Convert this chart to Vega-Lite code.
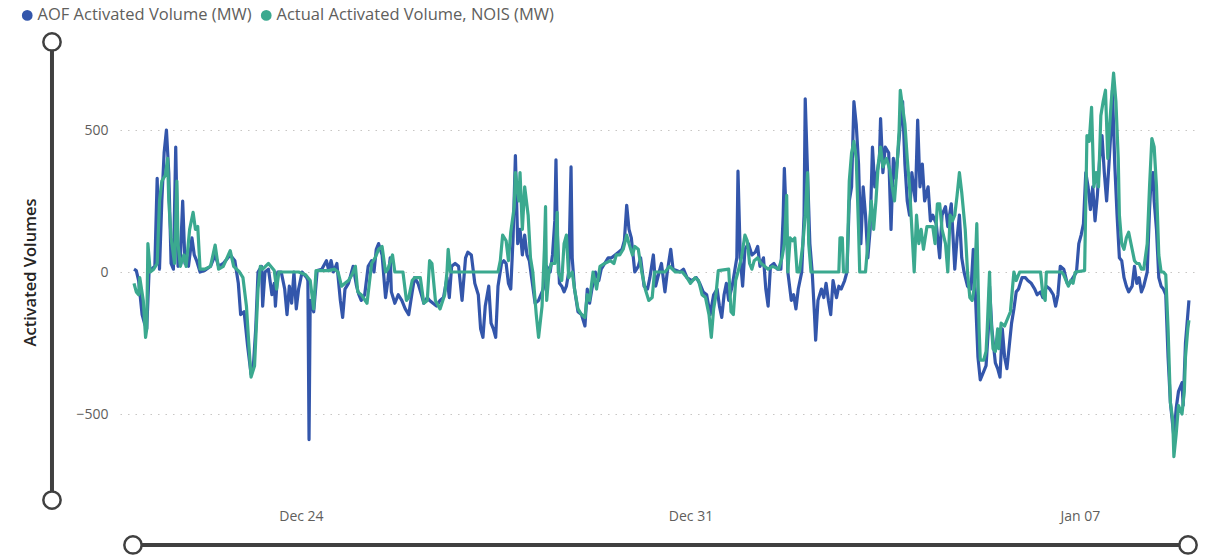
{
  "$schema": "https://vega.github.io/schema/vega-lite/v6.json",
  "width": 1080,
  "height": 450,
  "autosize": {"type": "none"},
  "padding": {"left": 120, "top": 40, "right": 10, "bottom": 66},
  "background": "white",
  "config": {"view": {"stroke": null}, "font": "Open Sans"},
  "datasets": {
    "aof": [
      {"t":"2023-12-21T00:00","v":10},{"t":"2023-12-21T01:00","v":5},{"t":"2023-12-21T02:00","v":-30},{"t":"2023-12-21T03:30","v":-150},{"t":"2023-12-21T04:30","v":-180},{"t":"2023-12-21T05:30","v":-200},{"t":"2023-12-21T06:30","v":0},{"t":"2023-12-21T07:30","v":10},{"t":"2023-12-21T09:00","v":20},{"t":"2023-12-21T10:00","v":330},{"t":"2023-12-21T11:00","v":10},{"t":"2023-12-21T12:00","v":250},{"t":"2023-12-21T13:00","v":420},{"t":"2023-12-21T14:00","v":500},{"t":"2023-12-21T15:00","v":350},{"t":"2023-12-21T16:00","v":30},{"t":"2023-12-21T17:00","v":10},{"t":"2023-12-21T18:00","v":440},{"t":"2023-12-21T19:00","v":20},{"t":"2023-12-21T20:00","v":50},{"t":"2023-12-21T21:00","v":250},{"t":"2023-12-21T22:00","v":30},{"t":"2023-12-21T23:30","v":20},
      {"t":"2023-12-22T01:00","v":120},{"t":"2023-12-22T02:00","v":60},{"t":"2023-12-22T03:00","v":40},{"t":"2023-12-22T04:30","v":0},{"t":"2023-12-22T06:30","v":5},{"t":"2023-12-22T09:00","v":20},{"t":"2023-12-22T11:00","v":60},{"t":"2023-12-22T12:30","v":20},{"t":"2023-12-22T14:30","v":30},{"t":"2023-12-22T17:30","v":60},{"t":"2023-12-22T19:30","v":40},{"t":"2023-12-22T21:00","v":-40},{"t":"2023-12-22T22:00","v":-150},{"t":"2023-12-22T23:30","v":-140},
      {"t":"2023-12-23T01:00","v":-260},{"t":"2023-12-23T02:30","v":-360},{"t":"2023-12-23T03:30","v":-330},{"t":"2023-12-23T04:30","v":-200},{"t":"2023-12-23T05:30","v":0},{"t":"2023-12-23T07:00","v":20},{"t":"2023-12-23T07:30","v":-120},{"t":"2023-12-23T08:30","v":0},{"t":"2023-12-23T10:00","v":10},{"t":"2023-12-23T11:30","v":-80},{"t":"2023-12-23T12:30","v":-40},{"t":"2023-12-23T13:00","v":-120},{"t":"2023-12-23T14:00","v":0},{"t":"2023-12-23T15:30","v":0},{"t":"2023-12-23T17:00","v":-60},{"t":"2023-12-23T18:00","v":-150},{"t":"2023-12-23T19:00","v":-50},{"t":"2023-12-23T20:00","v":-110},{"t":"2023-12-23T21:00","v":0},{"t":"2023-12-23T22:00","v":-130},{"t":"2023-12-23T23:00","v":-60},
      {"t":"2023-12-24T00:30","v":0},{"t":"2023-12-24T02:30","v":-20},{"t":"2023-12-24T03:00","v":-30},{"t":"2023-12-24T03:30","v":-590},{"t":"2023-12-24T04:00","v":-100},{"t":"2023-12-24T05:30","v":-140},{"t":"2023-12-24T07:00","v":5},{"t":"2023-12-24T09:00","v":10},{"t":"2023-12-24T11:00","v":40},{"t":"2023-12-24T12:00","v":5},{"t":"2023-12-24T13:00","v":40},{"t":"2023-12-24T14:00","v":0},{"t":"2023-12-24T15:30","v":30},{"t":"2023-12-24T17:00","v":-100},{"t":"2023-12-24T18:00","v":-160},{"t":"2023-12-24T19:00","v":-60},{"t":"2023-12-24T20:30","v":-40},{"t":"2023-12-24T22:30","v":20},
      {"t":"2023-12-25T00:00","v":-50},{"t":"2023-12-25T01:00","v":-80},{"t":"2023-12-25T02:00","v":-100},{"t":"2023-12-25T03:30","v":-80},{"t":"2023-12-25T05:00","v":20},{"t":"2023-12-25T06:30","v":40},{"t":"2023-12-25T07:30","v":0},{"t":"2023-12-25T08:30","v":80},{"t":"2023-12-25T09:30","v":100},{"t":"2023-12-25T11:00","v":60},{"t":"2023-12-25T12:30","v":-90},{"t":"2023-12-25T13:30","v":-30},{"t":"2023-12-25T14:30","v":50},{"t":"2023-12-25T15:00","v":-70},{"t":"2023-12-25T16:30","v":-110},{"t":"2023-12-25T18:00","v":-80},{"t":"2023-12-25T19:30","v":-100},{"t":"2023-12-25T21:00","v":-130},{"t":"2023-12-25T22:30","v":-150},
      {"t":"2023-12-26T00:00","v":-70},{"t":"2023-12-26T01:00","v":-20},{"t":"2023-12-26T02:30","v":-40},{"t":"2023-12-26T04:00","v":-80},{"t":"2023-12-26T05:00","v":-110},{"t":"2023-12-26T06:30","v":-90},{"t":"2023-12-26T07:30","v":-100},{"t":"2023-12-26T09:00","v":-110},{"t":"2023-12-26T10:30","v":-120},{"t":"2023-12-26T12:00","v":-100},{"t":"2023-12-26T13:30","v":-90},{"t":"2023-12-26T15:00","v":-20},{"t":"2023-12-26T16:00","v":-90},{"t":"2023-12-26T17:00","v":20},{"t":"2023-12-26T18:30","v":30},{"t":"2023-12-26T20:00","v":20},{"t":"2023-12-26T21:30","v":-100},{"t":"2023-12-26T23:00","v":50},
      {"t":"2023-12-27T00:00","v":70},{"t":"2023-12-27T01:30","v":60},{"t":"2023-12-27T03:00","v":-40},{"t":"2023-12-27T04:30","v":-80},{"t":"2023-12-27T05:30","v":-200},{"t":"2023-12-27T06:30","v":-230},{"t":"2023-12-27T07:30","v":-120},{"t":"2023-12-27T09:00","v":-50},{"t":"2023-12-27T10:00","v":-180},{"t":"2023-12-27T11:00","v":-200},{"t":"2023-12-27T12:00","v":-230},{"t":"2023-12-27T13:00","v":-50},{"t":"2023-12-27T14:30","v":30},{"t":"2023-12-27T15:30","v":40},{"t":"2023-12-27T16:30","v":30},{"t":"2023-12-27T17:30","v":-40},{"t":"2023-12-27T18:30","v":-60},{"t":"2023-12-27T19:30","v":120},{"t":"2023-12-27T20:30","v":410},{"t":"2023-12-27T21:30","v":100},{"t":"2023-12-27T22:30","v":150},{"t":"2023-12-27T23:30","v":60},
      {"t":"2023-12-28T00:30","v":130},{"t":"2023-12-28T01:30","v":60},{"t":"2023-12-28T02:30","v":40},{"t":"2023-12-28T03:30","v":-20},{"t":"2023-12-28T05:00","v":-110},{"t":"2023-12-28T06:30","v":-100},{"t":"2023-12-28T08:30","v":-60},{"t":"2023-12-28T10:00","v":20},{"t":"2023-12-28T11:30","v":0},{"t":"2023-12-28T12:30","v":60},{"t":"2023-12-28T13:30","v":180},{"t":"2023-12-28T14:00","v":395},{"t":"2023-12-28T14:30","v":150},{"t":"2023-12-28T15:30","v":-40},{"t":"2023-12-28T16:30","v":-50},{"t":"2023-12-28T17:30","v":-70},{"t":"2023-12-28T18:30","v":-50},{"t":"2023-12-28T19:30","v":0},{"t":"2023-12-28T20:30","v":370},{"t":"2023-12-28T21:00","v":50},{"t":"2023-12-28T22:00","v":-60},{"t":"2023-12-28T23:30","v":-140},
      {"t":"2023-12-29T01:00","v":-150},{"t":"2023-12-29T02:30","v":-190},{"t":"2023-12-29T03:30","v":-60},{"t":"2023-12-29T04:30","v":-110},{"t":"2023-12-29T05:30","v":-60},{"t":"2023-12-29T07:00","v":0},{"t":"2023-12-29T08:30","v":-30},{"t":"2023-12-29T09:30","v":10},{"t":"2023-12-29T11:00","v":30},{"t":"2023-12-29T12:30","v":50},{"t":"2023-12-29T14:00","v":50},{"t":"2023-12-29T15:30","v":60},{"t":"2023-12-29T17:00","v":70},{"t":"2023-12-29T18:30","v":80},{"t":"2023-12-29T19:30","v":110},{"t":"2023-12-29T20:30","v":235},{"t":"2023-12-29T21:30","v":150},{"t":"2023-12-29T22:30","v":120},
      {"t":"2023-12-30T00:00","v":0},{"t":"2023-12-30T01:30","v":20},{"t":"2023-12-30T02:30","v":50},{"t":"2023-12-30T04:00","v":-50},{"t":"2023-12-30T05:30","v":-60},{"t":"2023-12-30T06:30","v":-20},{"t":"2023-12-30T08:00","v":60},{"t":"2023-12-30T09:00","v":-50},{"t":"2023-12-30T10:30","v":0},{"t":"2023-12-30T11:30","v":30},{"t":"2023-12-30T13:00","v":-70},{"t":"2023-12-30T14:00","v":0},{"t":"2023-12-30T15:30","v":80},{"t":"2023-12-30T16:30","v":10},{"t":"2023-12-30T18:00","v":5},{"t":"2023-12-30T19:30","v":0},{"t":"2023-12-30T21:00","v":10},{"t":"2023-12-30T22:30","v":-20},
      {"t":"2023-12-31T00:30","v":-30},{"t":"2023-12-31T02:30","v":-20},{"t":"2023-12-31T04:00","v":-40},{"t":"2023-12-31T05:30","v":-70},{"t":"2023-12-31T07:00","v":-80},{"t":"2023-12-31T08:30","v":-150},{"t":"2023-12-31T10:00","v":-80},{"t":"2023-12-31T11:30","v":-60},{"t":"2023-12-31T12:30","v":-120},{"t":"2023-12-31T13:30","v":-160},{"t":"2023-12-31T14:30","v":-80},{"t":"2023-12-31T15:30","v":-40},{"t":"2023-12-31T16:30","v":-100},{"t":"2023-12-31T18:00","v":-50},{"t":"2023-12-31T19:00","v":0},{"t":"2023-12-31T20:00","v":50},{"t":"2023-12-31T20:30","v":355},{"t":"2023-12-31T21:30","v":50},{"t":"2023-12-31T22:30","v":-50},{"t":"2023-12-31T23:30","v":80},
      {"t":"2024-01-01T01:00","v":100},{"t":"2024-01-01T02:30","v":60},{"t":"2024-01-01T04:00","v":70},{"t":"2024-01-01T05:00","v":90},{"t":"2024-01-01T06:00","v":20},{"t":"2024-01-01T07:30","v":50},{"t":"2024-01-01T08:30","v":-60},{"t":"2024-01-01T09:30","v":-120},{"t":"2024-01-01T10:30","v":20},{"t":"2024-01-01T12:00","v":30},{"t":"2024-01-01T13:30","v":10},{"t":"2024-01-01T15:00","v":10},{"t":"2024-01-01T16:00","v":200},{"t":"2024-01-01T16:30","v":365},{"t":"2024-01-01T17:30","v":150},{"t":"2024-01-01T18:00","v":0},{"t":"2024-01-01T19:30","v":-100},{"t":"2024-01-01T20:30","v":-80},{"t":"2024-01-01T21:30","v":-130},{"t":"2024-01-01T22:30","v":-60},
      {"t":"2024-01-02T00:00","v":0},{"t":"2024-01-02T01:00","v":200},{"t":"2024-01-02T01:30","v":610},{"t":"2024-01-02T02:30","v":350},{"t":"2024-01-02T03:30","v":100},{"t":"2024-01-02T04:30","v":0},{"t":"2024-01-02T05:30","v":-150},{"t":"2024-01-02T06:00","v":-240},{"t":"2024-01-02T07:00","v":-100},{"t":"2024-01-02T08:30","v":-60},{"t":"2024-01-02T09:30","v":-90},{"t":"2024-01-02T10:30","v":-40},{"t":"2024-01-02T11:30","v":-100},{"t":"2024-01-02T12:30","v":-150},{"t":"2024-01-02T13:30","v":-30},{"t":"2024-01-02T15:00","v":-90},{"t":"2024-01-02T16:00","v":-50},{"t":"2024-01-02T17:00","v":-60},{"t":"2024-01-02T18:30","v":-30},{"t":"2024-01-02T19:30","v":0},{"t":"2024-01-02T20:30","v":250},{"t":"2024-01-02T21:30","v":300},{"t":"2024-01-02T22:30","v":600},{"t":"2024-01-02T23:30","v":520},
      {"t":"2024-01-03T00:30","v":380},{"t":"2024-01-03T01:30","v":100},{"t":"2024-01-03T02:30","v":300},{"t":"2024-01-03T03:30","v":200},{"t":"2024-01-03T04:30","v":50},{"t":"2024-01-03T05:30","v":150},{"t":"2024-01-03T06:30","v":440},{"t":"2024-01-03T07:30","v":300},{"t":"2024-01-03T08:30","v":350},{"t":"2024-01-03T09:30","v":400},{"t":"2024-01-03T10:00","v":540},{"t":"2024-01-03T11:00","v":350},{"t":"2024-01-03T12:00","v":440},{"t":"2024-01-03T13:30","v":420},{"t":"2024-01-03T14:30","v":150},{"t":"2024-01-03T15:30","v":400},{"t":"2024-01-03T16:30","v":330},{"t":"2024-01-03T17:30","v":420},{"t":"2024-01-03T18:30","v":520},{"t":"2024-01-03T19:30","v":600},{"t":"2024-01-03T20:30","v":380},{"t":"2024-01-03T21:30","v":250},{"t":"2024-01-03T22:30","v":200},{"t":"2024-01-03T23:30","v":350},
      {"t":"2024-01-04T01:00","v":250},{"t":"2024-01-04T02:00","v":535},{"t":"2024-01-04T03:00","v":300},{"t":"2024-01-04T04:00","v":380},{"t":"2024-01-04T05:00","v":250},{"t":"2024-01-04T06:30","v":300},{"t":"2024-01-04T07:30","v":180},{"t":"2024-01-04T08:30","v":200},{"t":"2024-01-04T10:00","v":170},{"t":"2024-01-04T11:30","v":50},{"t":"2024-01-04T12:30","v":200},{"t":"2024-01-04T14:00","v":230},{"t":"2024-01-04T15:00","v":160},{"t":"2024-01-04T16:30","v":240},{"t":"2024-01-04T18:00","v":10},{"t":"2024-01-04T19:00","v":120},{"t":"2024-01-04T20:00","v":200},{"t":"2024-01-04T21:00","v":50},{"t":"2024-01-04T22:00","v":0},{"t":"2024-01-04T23:30","v":-50},
      {"t":"2024-01-05T01:00","v":-60},{"t":"2024-01-05T02:00","v":80},{"t":"2024-01-05T03:00","v":-100},{"t":"2024-01-05T04:00","v":-300},{"t":"2024-01-05T05:00","v":-380},{"t":"2024-01-05T06:30","v":-350},{"t":"2024-01-05T07:30","v":-330},{"t":"2024-01-05T08:30","v":-200},{"t":"2024-01-05T09:00","v":-50},{"t":"2024-01-05T10:00","v":-200},{"t":"2024-01-05T11:30","v":-320},{"t":"2024-01-05T12:30","v":-340},{"t":"2024-01-05T13:30","v":-370},{"t":"2024-01-05T14:30","v":-200},{"t":"2024-01-05T15:30","v":-300},{"t":"2024-01-05T16:30","v":-340},{"t":"2024-01-05T17:30","v":-260},{"t":"2024-01-05T18:30","v":-180},{"t":"2024-01-05T19:30","v":-130},{"t":"2024-01-05T20:30","v":-70},{"t":"2024-01-05T21:30","v":-60},{"t":"2024-01-05T23:00","v":-20},
      {"t":"2024-01-06T00:30","v":-20},{"t":"2024-01-06T01:30","v":-30},{"t":"2024-01-06T03:00","v":-40},{"t":"2024-01-06T04:30","v":-60},{"t":"2024-01-06T05:30","v":-80},{"t":"2024-01-06T07:00","v":-70},{"t":"2024-01-06T08:00","v":-90},{"t":"2024-01-06T09:30","v":-50},{"t":"2024-01-06T11:00","v":-60},{"t":"2024-01-06T12:30","v":-80},{"t":"2024-01-06T13:30","v":-120},{"t":"2024-01-06T14:30","v":-80},{"t":"2024-01-06T15:30","v":20},{"t":"2024-01-06T17:00","v":10},{"t":"2024-01-06T18:30","v":-40},{"t":"2024-01-06T19:30","v":-40},{"t":"2024-01-06T21:00","v":-20},{"t":"2024-01-06T22:30","v":0},{"t":"2024-01-06T23:30","v":100},
      {"t":"2024-01-07T00:30","v":130},{"t":"2024-01-07T01:30","v":170},{"t":"2024-01-07T02:30","v":350},{"t":"2024-01-07T03:30","v":300},{"t":"2024-01-07T04:30","v":220},{"t":"2024-01-07T05:30","v":300},{"t":"2024-01-07T06:30","v":180},{"t":"2024-01-07T07:30","v":270},{"t":"2024-01-07T08:30","v":400},{"t":"2024-01-07T09:30","v":480},{"t":"2024-01-07T10:30","v":350},{"t":"2024-01-07T11:30","v":250},{"t":"2024-01-07T12:30","v":380},{"t":"2024-01-07T13:30","v":520},{"t":"2024-01-07T14:00","v":640},{"t":"2024-01-07T15:00","v":380},{"t":"2024-01-07T16:00","v":200},{"t":"2024-01-07T17:00","v":50},{"t":"2024-01-07T18:00","v":40},{"t":"2024-01-07T19:00","v":-20},{"t":"2024-01-07T20:00","v":-50},{"t":"2024-01-07T21:00","v":-70},{"t":"2024-01-07T22:30","v":-50},{"t":"2024-01-07T23:30","v":20},
      {"t":"2024-01-08T00:30","v":-40},{"t":"2024-01-08T01:30","v":-20},{"t":"2024-01-08T02:30","v":-70},{"t":"2024-01-08T03:30","v":-50},{"t":"2024-01-08T05:00","v":0},{"t":"2024-01-08T06:00","v":220},{"t":"2024-01-08T06:30","v":300},{"t":"2024-01-08T07:30","v":350},{"t":"2024-01-08T08:00","v":250},{"t":"2024-01-08T09:00","v":150},{"t":"2024-01-08T10:00","v":-20},{"t":"2024-01-08T11:00","v":-50},{"t":"2024-01-08T12:00","v":-60},{"t":"2024-01-08T13:00","v":-80},{"t":"2024-01-08T14:00","v":-300},{"t":"2024-01-08T15:00","v":-460},{"t":"2024-01-08T16:00","v":-540},{"t":"2024-01-08T16:30","v":-580},{"t":"2024-01-08T17:30","v":-480},{"t":"2024-01-08T18:30","v":-420},{"t":"2024-01-08T20:00","v":-390},{"t":"2024-01-08T20:30","v":-470},{"t":"2024-01-08T21:30","v":-250},{"t":"2024-01-08T22:00","v":-200},{"t":"2024-01-08T23:00","v":-100}
    ],
    "nois": [
      {"t":"2023-12-21T00:00","v":-40},{"t":"2023-12-21T01:00","v":-70},{"t":"2023-12-21T02:00","v":-80},{"t":"2023-12-21T02:30","v":-20},{"t":"2023-12-21T04:00","v":-100},{"t":"2023-12-21T05:00","v":-230},{"t":"2023-12-21T05:30","v":-200},{"t":"2023-12-21T06:00","v":100},{"t":"2023-12-21T07:00","v":0},{"t":"2023-12-21T08:30","v":10},{"t":"2023-12-21T10:00","v":30},{"t":"2023-12-21T11:00","v":250},{"t":"2023-12-21T12:00","v":320},{"t":"2023-12-21T13:30","v":340},{"t":"2023-12-21T14:30","v":400},{"t":"2023-12-21T15:00","v":250},{"t":"2023-12-21T16:00","v":120},{"t":"2023-12-21T17:30","v":30},{"t":"2023-12-21T18:30","v":320},{"t":"2023-12-21T19:00","v":100},{"t":"2023-12-21T20:00","v":20},{"t":"2023-12-21T21:30","v":60},{"t":"2023-12-21T22:30","v":20},
      {"t":"2023-12-22T00:00","v":150},{"t":"2023-12-22T01:30","v":210},{"t":"2023-12-22T02:30","v":150},{"t":"2023-12-22T03:30","v":160},{"t":"2023-12-22T04:30","v":10},{"t":"2023-12-22T06:30","v":10},{"t":"2023-12-22T09:00","v":20},{"t":"2023-12-22T11:00","v":95},{"t":"2023-12-22T12:30","v":10},{"t":"2023-12-22T14:30","v":20},{"t":"2023-12-22T17:30","v":75},{"t":"2023-12-22T19:00","v":20},{"t":"2023-12-22T21:30","v":0},{"t":"2023-12-22T23:00","v":-20},
      {"t":"2023-12-23T00:30","v":-120},{"t":"2023-12-23T01:30","v":-250},{"t":"2023-12-23T02:30","v":-370},{"t":"2023-12-23T04:00","v":-330},{"t":"2023-12-23T05:30","v":-60},{"t":"2023-12-23T06:30","v":20},{"t":"2023-12-23T07:30","v":10},{"t":"2023-12-23T10:00","v":30},{"t":"2023-12-23T12:30","v":5},{"t":"2023-12-23T13:30","v":-60},{"t":"2023-12-23T14:30","v":0},{"t":"2023-12-23T17:00","v":0},{"t":"2023-12-23T20:00","v":0},{"t":"2023-12-23T23:00","v":0},
      {"t":"2023-12-24T02:00","v":-10},{"t":"2023-12-24T04:00","v":-30},{"t":"2023-12-24T05:30","v":-130},{"t":"2023-12-24T06:30","v":5},{"t":"2023-12-24T09:00","v":5},{"t":"2023-12-24T12:00","v":5},{"t":"2023-12-24T14:30","v":10},{"t":"2023-12-24T16:00","v":0},{"t":"2023-12-24T17:30","v":-50},{"t":"2023-12-24T19:00","v":-40},{"t":"2023-12-24T20:30","v":-30},{"t":"2023-12-24T22:00","v":-10},{"t":"2023-12-24T23:30","v":20},
      {"t":"2023-12-25T00:30","v":-70},{"t":"2023-12-25T02:00","v":-80},{"t":"2023-12-25T04:30","v":-110},{"t":"2023-12-25T05:30","v":-40},{"t":"2023-12-25T06:30","v":30},{"t":"2023-12-25T08:00","v":50},{"t":"2023-12-25T09:30","v":80},{"t":"2023-12-25T11:00","v":90},{"t":"2023-12-25T12:30","v":0},{"t":"2023-12-25T13:30","v":10},{"t":"2023-12-25T15:30","v":60},{"t":"2023-12-25T16:30","v":0},{"t":"2023-12-25T20:00","v":0},{"t":"2023-12-25T21:30","v":-100},{"t":"2023-12-25T22:30","v":-90},
      {"t":"2023-12-26T00:00","v":-30},{"t":"2023-12-26T01:00","v":-20},{"t":"2023-12-26T03:30","v":-20},{"t":"2023-12-26T05:00","v":-110},{"t":"2023-12-26T06:30","v":-100},{"t":"2023-12-26T07:30","v":40},{"t":"2023-12-26T08:30","v":30},{"t":"2023-12-26T10:00","v":-100},{"t":"2023-12-26T12:00","v":-130},{"t":"2023-12-26T14:00","v":-80},{"t":"2023-12-26T15:00","v":0},{"t":"2023-12-26T15:30","v":80},{"t":"2023-12-26T16:30","v":0},
      {"t":"2023-12-27T13:00","v":0},{"t":"2023-12-27T14:00","v":40},{"t":"2023-12-27T15:00","v":130},{"t":"2023-12-27T16:30","v":110},{"t":"2023-12-27T17:30","v":40},{"t":"2023-12-27T18:30","v":140},{"t":"2023-12-27T20:00","v":230},{"t":"2023-12-27T20:30","v":350},{"t":"2023-12-27T22:00","v":250},{"t":"2023-12-27T22:30","v":350},{"t":"2023-12-27T23:30","v":150},
      {"t":"2023-12-28T00:30","v":300},{"t":"2023-12-28T02:00","v":200},{"t":"2023-12-28T03:00","v":50},{"t":"2023-12-28T04:00","v":0},{"t":"2023-12-28T05:30","v":-150},{"t":"2023-12-28T06:30","v":-230},{"t":"2023-12-28T08:00","v":-120},{"t":"2023-12-28T09:00","v":80},{"t":"2023-12-28T09:30","v":230},{"t":"2023-12-28T10:00","v":-100},{"t":"2023-12-28T11:00","v":0},{"t":"2023-12-28T12:00","v":30},{"t":"2023-12-28T13:30","v":30},{"t":"2023-12-28T14:30","v":210},{"t":"2023-12-28T15:00","v":0},{"t":"2023-12-28T16:30","v":-30},{"t":"2023-12-28T17:30","v":100},{"t":"2023-12-28T18:30","v":130},{"t":"2023-12-28T19:30","v":-20},{"t":"2023-12-28T21:00","v":0},{"t":"2023-12-28T22:00","v":-60},{"t":"2023-12-28T23:30","v":-130},
      {"t":"2023-12-29T01:00","v":-150},{"t":"2023-12-29T02:30","v":-160},{"t":"2023-12-29T03:30","v":-80},{"t":"2023-12-29T04:30","v":-100},{"t":"2023-12-29T06:00","v":0},{"t":"2023-12-29T07:30","v":-60},{"t":"2023-12-29T09:00","v":20},{"t":"2023-12-29T11:00","v":30},{"t":"2023-12-29T13:30","v":40},{"t":"2023-12-29T15:00","v":30},{"t":"2023-12-29T16:00","v":60},{"t":"2023-12-29T17:30","v":60},{"t":"2023-12-29T19:00","v":80},{"t":"2023-12-29T20:30","v":130},{"t":"2023-12-29T21:30","v":100},{"t":"2023-12-29T23:00","v":60},
      {"t":"2023-12-30T00:00","v":90},{"t":"2023-12-30T01:30","v":80},{"t":"2023-12-30T03:00","v":0},{"t":"2023-12-30T04:30","v":-60},{"t":"2023-12-30T06:00","v":-100},{"t":"2023-12-30T07:30","v":-90},{"t":"2023-12-30T08:30","v":0},{"t":"2023-12-30T13:00","v":0},{"t":"2023-12-30T15:00","v":20},{"t":"2023-12-30T17:30","v":0},{"t":"2023-12-30T20:30","v":0},{"t":"2023-12-30T22:30","v":-20},
      {"t":"2023-12-31T00:00","v":-40},{"t":"2023-12-31T02:00","v":-20},{"t":"2023-12-31T03:30","v":-30},{"t":"2023-12-31T05:00","v":-80},{"t":"2023-12-31T06:30","v":-90},{"t":"2023-12-31T08:00","v":-150},{"t":"2023-12-31T09:00","v":-230},{"t":"2023-12-31T10:00","v":-130},{"t":"2023-12-31T11:00","v":-80},{"t":"2023-12-31T12:00","v":5},{"t":"2023-12-31T16:30","v":10},{"t":"2023-12-31T17:30","v":-140},{"t":"2023-12-31T18:30","v":-150},{"t":"2023-12-31T19:30","v":-30},{"t":"2023-12-31T20:30","v":0},{"t":"2023-12-31T22:00","v":50},{"t":"2023-12-31T23:30","v":130},
      {"t":"2024-01-01T00:30","v":110},{"t":"2024-01-01T01:30","v":30},{"t":"2024-01-01T02:30","v":10},{"t":"2024-01-01T03:30","v":40},{"t":"2024-01-01T05:00","v":50},{"t":"2024-01-01T06:30","v":30},{"t":"2024-01-01T08:00","v":20},{"t":"2024-01-01T09:30","v":10},{"t":"2024-01-01T11:30","v":20},{"t":"2024-01-01T14:00","v":10},{"t":"2024-01-01T15:30","v":50},{"t":"2024-01-01T16:30","v":100},{"t":"2024-01-01T17:30","v":270},{"t":"2024-01-01T18:00","v":0},{"t":"2024-01-01T19:00","v":120},{"t":"2024-01-01T20:00","v":110},{"t":"2024-01-01T21:00","v":120},{"t":"2024-01-01T22:00","v":0},{"t":"2024-01-01T23:00","v":0},
      {"t":"2024-01-02T00:30","v":100},{"t":"2024-01-02T01:30","v":200},{"t":"2024-01-02T02:30","v":350},{"t":"2024-01-02T03:00","v":100},{"t":"2024-01-02T04:00","v":0},{"t":"2024-01-02T16:00","v":0},{"t":"2024-01-02T16:30","v":120},{"t":"2024-01-02T17:30","v":120},{"t":"2024-01-02T18:00","v":0},{"t":"2024-01-02T19:30","v":0},{"t":"2024-01-02T20:30","v":320},{"t":"2024-01-02T21:30","v":420},{"t":"2024-01-02T22:30","v":460},{"t":"2024-01-02T23:30","v":400},
      {"t":"2024-01-03T00:30","v":150},{"t":"2024-01-03T01:00","v":0},{"t":"2024-01-03T03:30","v":0},{"t":"2024-01-03T04:30","v":100},{"t":"2024-01-03T06:00","v":250},{"t":"2024-01-03T07:00","v":150},{"t":"2024-01-03T08:00","v":250},{"t":"2024-01-03T09:00","v":380},{"t":"2024-01-03T10:00","v":440},{"t":"2024-01-03T11:00","v":370},{"t":"2024-01-03T12:30","v":400},{"t":"2024-01-03T14:00","v":360},{"t":"2024-01-03T15:00","v":300},{"t":"2024-01-03T16:00","v":250},{"t":"2024-01-03T17:00","v":360},{"t":"2024-01-03T18:00","v":500},{"t":"2024-01-03T18:30","v":640},{"t":"2024-01-03T19:30","v":580},{"t":"2024-01-03T20:30","v":520},{"t":"2024-01-03T21:30","v":400},{"t":"2024-01-03T22:30","v":300},{"t":"2024-01-03T23:30","v":150},
      {"t":"2024-01-04T00:30","v":0},{"t":"2024-01-04T01:30","v":200},{"t":"2024-01-04T02:30","v":100},{"t":"2024-01-04T03:30","v":150},{"t":"2024-01-04T04:30","v":80},{"t":"2024-01-04T06:00","v":160},{"t":"2024-01-04T07:30","v":160},{"t":"2024-01-04T08:30","v":160},{"t":"2024-01-04T09:30","v":100},{"t":"2024-01-04T10:30","v":240},{"t":"2024-01-04T11:30","v":240},{"t":"2024-01-04T12:30","v":150},{"t":"2024-01-04T14:00","v":100},{"t":"2024-01-04T15:00","v":0},{"t":"2024-01-04T16:00","v":200},{"t":"2024-01-04T17:00","v":180},{"t":"2024-01-04T18:00","v":200},{"t":"2024-01-04T19:00","v":270},{"t":"2024-01-04T20:00","v":350},{"t":"2024-01-04T21:00","v":280},{"t":"2024-01-04T22:30","v":150},{"t":"2024-01-04T23:30","v":0},
      {"t":"2024-01-05T00:30","v":-90},{"t":"2024-01-05T01:30","v":-100},{"t":"2024-01-05T02:30","v":-50},{"t":"2024-01-05T03:30","v":170},{"t":"2024-01-05T04:30","v":-200},{"t":"2024-01-05T05:00","v":-310},{"t":"2024-01-05T06:30","v":-310},{"t":"2024-01-05T07:30","v":-280},{"t":"2024-01-05T08:00","v":-200},{"t":"2024-01-05T09:00","v":0},{"t":"2024-01-05T09:30","v":-150},{"t":"2024-01-05T10:30","v":-270},{"t":"2024-01-05T11:30","v":-280},{"t":"2024-01-05T12:30","v":-200},{"t":"2024-01-05T13:00","v":-270},{"t":"2024-01-05T14:00","v":-180},{"t":"2024-01-05T15:30","v":-190},{"t":"2024-01-05T18:00","v":-140},{"t":"2024-01-05T19:30","v":0},{"t":"2024-01-05T20:30","v":-30},{"t":"2024-01-05T22:00","v":0},
      {"t":"2024-01-06T07:00","v":0},{"t":"2024-01-06T08:00","v":-80},{"t":"2024-01-06T09:00","v":-100},{"t":"2024-01-06T09:30","v":0},{"t":"2024-01-06T16:00","v":0},{"t":"2024-01-06T17:00","v":-10},{"t":"2024-01-06T18:00","v":-30},{"t":"2024-01-06T19:00","v":-50},{"t":"2024-01-06T20:00","v":-30},{"t":"2024-01-06T21:00","v":-40},{"t":"2024-01-06T22:00","v":0},
      {"t":"2024-01-07T02:00","v":5},{"t":"2024-01-07T03:00","v":480},{"t":"2024-01-07T04:00","v":460},{"t":"2024-01-07T05:00","v":580},{"t":"2024-01-07T06:00","v":300},{"t":"2024-01-07T07:00","v":350},{"t":"2024-01-07T08:00","v":300},{"t":"2024-01-07T09:00","v":550},{"t":"2024-01-07T10:00","v":600},{"t":"2024-01-07T11:00","v":640},{"t":"2024-01-07T12:00","v":400},{"t":"2024-01-07T12:30","v":480},{"t":"2024-01-07T13:30","v":600},{"t":"2024-01-07T14:30","v":700},{"t":"2024-01-07T15:30","v":600},{"t":"2024-01-07T16:30","v":400},{"t":"2024-01-07T17:00","v":200},{"t":"2024-01-07T18:00","v":100},{"t":"2024-01-07T19:00","v":80},{"t":"2024-01-07T20:00","v":120},{"t":"2024-01-07T21:00","v":140},{"t":"2024-01-07T22:30","v":80},{"t":"2024-01-07T23:30","v":40},
      {"t":"2024-01-08T00:30","v":30},{"t":"2024-01-08T01:30","v":30},{"t":"2024-01-08T02:30","v":10},{"t":"2024-01-08T03:30","v":10},{"t":"2024-01-08T05:00","v":100},{"t":"2024-01-08T06:00","v":300},{"t":"2024-01-08T07:00","v":470},{"t":"2024-01-08T08:00","v":440},{"t":"2024-01-08T09:00","v":300},{"t":"2024-01-08T10:00","v":60},{"t":"2024-01-08T11:00","v":0},{"t":"2024-01-08T12:00","v":0},{"t":"2024-01-08T13:00","v":-10},{"t":"2024-01-08T14:00","v":-200},{"t":"2024-01-08T15:00","v":-460},{"t":"2024-01-08T16:00","v":-520},{"t":"2024-01-08T16:30","v":-650},{"t":"2024-01-08T17:30","v":-570},{"t":"2024-01-08T18:30","v":-470},{"t":"2024-01-08T20:00","v":-500},{"t":"2024-01-08T21:00","v":-420},{"t":"2024-01-08T21:30","v":-300},{"t":"2024-01-08T22:30","v":-200},{"t":"2024-01-08T23:00","v":-170}
    ],
    "sliderLines": [
      {"t":"2023-12-19T12:38","t2":"2023-12-19T12:38","v":810,"v2":-803},
      {"t":"2023-12-20T23:34","t2":"2024-01-08T22:36","v":-961,"v2":-961}
    ],
    "sliderKnobs": [
      {"t":"2023-12-19T12:38","v":810},
      {"t":"2023-12-19T12:38","v":-803},
      {"t":"2023-12-20T23:34","v":-961},
      {"t":"2024-01-08T22:36","v":-961}
    ]
  },
  "encoding": {
    "x": {
      "field": "t", "type": "temporal",
      "scale": {"domain": [{"year":2023,"month":12,"date":20,"hours":17,"minutes":58},{"year":2024,"month":1,"date":9,"hours":3,"minutes":46}], "nice": false},
      "axis": {"title": null, "values": [{"year":2023,"month":12,"date":24},{"year":2023,"month":12,"date":31},{"year":2024,"month":1,"date":7}], "format": "%b %d", "grid": false, "domain": false, "ticks": false, "labelPadding": 19, "labelColor": "#605E5C", "labelFontSize": 14, "labelFont": "Open Sans"}
    },
    "y": {
      "field": "v", "type": "quantitative",
      "scale": {"domain": [-767.6, 816.9], "nice": false, "zero": false},
      "axis": {"title": "Activated Volumes", "values": [-500, 0, 500], "grid": true, "gridDash": [1.5, 6], "gridColor": "#C8C6C4", "gridWidth": 1.2, "domain": false, "ticks": false, "labelColor": "#605E5C", "labelFontSize": 14, "labelPadding": 12, "labelFont": "Open Sans", "titleColor": "#252423", "titleFontSize": 16.5, "titleFontWeight": 600, "titleFont": "Open Sans", "titleAngle": -90, "titleX": -90, "titleY": 232, "titleAlign": "center", "titleBaseline": "middle"}
    }
  },
  "layer": [
    {
      "data": {"name": "aof"},
      "mark": {"type": "line", "strokeWidth": 3.2, "strokeJoin": "round"},
      "encoding": {
        "color": {
          "datum": "AOF Activated Volume (MW)", "type": "nominal",
          "scale": {"domain": ["AOF Activated Volume (MW)", "Actual Activated Volume, NOIS (MW)"], "range": ["#3356AB", "#3BA98F"]},
          "legend": {"title": null, "orient": "none", "legendX": -101, "legendY": -33, "direction": "horizontal", "symbolType": "circle", "symbolSize": 115, "labelFontSize": 16.5, "labelFont": "Open Sans", "labelColor": "#605E5C", "labelLimit": 0, "labelOffset": 2, "columnPadding": 6,
            "encode": {"symbols": {"update": {"fill": {"scale": "color", "field": "value"}, "strokeWidth": {"value": 0}}}}}
        }
      }
    },
    {
      "data": {"name": "nois"},
      "mark": {"type": "line", "strokeWidth": 3.2, "strokeJoin": "round"},
      "encoding": {
        "color": {"datum": "Actual Activated Volume, NOIS (MW)", "type": "nominal"}
      }
    },
    {
      "data": {"name": "sliderLines"},
      "mark": {"type": "rule", "stroke": "#404040", "strokeWidth": 4},
      "encoding": {"x2": {"field": "t2"}, "y2": {"field": "v2"}}
    },
    {
      "data": {"name": "sliderKnobs"},
      "mark": {"type": "point", "filled": false, "fill": "white", "fillOpacity": 1, "stroke": "#404040", "strokeWidth": 2.5, "size": 300, "opacity": 1},
      "encoding": {}
    }
  ]
}
